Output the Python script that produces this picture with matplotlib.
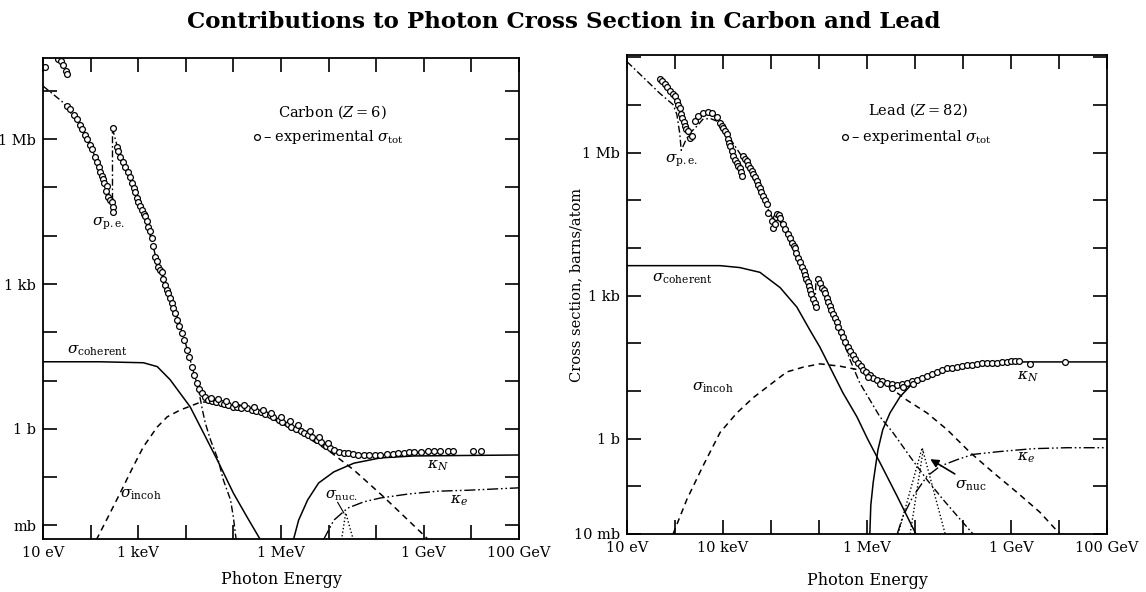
import numpy as np
import matplotlib.pyplot as plt
from matplotlib.ticker import FixedLocator, FixedFormatter

plt.rcParams['font.family'] = 'DejaVu Serif'
plt.rcParams['mathtext.fontset'] = 'dejavuserif'

# all values are (log10 E/eV, log10 sigma/barn)

# ---- Carbon
c_tot = [(1.04, 7.49), (1.32, 7.66), (1.38, 7.62), (1.42, 7.53), (1.48, 7.41), (1.51, 7.35),
         (1.51, 6.68), (1.57, 6.62), (1.65, 6.49), (1.72, 6.41), (1.78, 6.29), (1.82, 6.20),
         (1.88, 6.08), (1.93, 6.00), (1.99, 5.87), (2.03, 5.79), (2.09, 5.64), (2.14, 5.52),
         (2.18, 5.42), (2.20, 5.33), (2.24, 5.23), (2.26, 5.17), (2.28, 5.10), (2.35, 5.02),
         (2.33, 4.92), (2.37, 4.81), (2.41, 4.75), (2.45, 4.69), (2.47, 4.59), (2.47, 4.50),
         (2.47, 6.23), (2.56, 5.83), (2.58, 5.75), (2.62, 5.64), (2.68, 5.52), (2.73, 5.42),
         (2.79, 5.31), (2.83, 5.21), (2.87, 5.10), (2.92, 4.98), (2.94, 4.90), (2.98, 4.79),
         (3.00, 4.69), (3.04, 4.61), (3.08, 4.54), (3.13, 4.46), (3.15, 4.40), (3.19, 4.30),
         (3.21, 4.19), (3.25, 4.09), (3.29, 3.96), (3.32, 3.78), (3.36, 3.57), (3.40, 3.47),
         (3.42, 3.36), (3.46, 3.30), (3.51, 3.24), (3.53, 3.11), (3.57, 2.99), (3.61, 2.88),
         (3.63, 2.82), (3.67, 2.72), (3.72, 2.61), (3.74, 2.51), (3.78, 2.41), (3.82, 2.26),
         (3.86, 2.14), (3.93, 1.99), (3.97, 1.85), (4.03, 1.64), (4.07, 1.49), (4.14, 1.29),
         (4.18, 1.12), (4.24, 0.95), (4.28, 0.83), (4.35, 0.75), (4.41, 0.66), (4.47, 0.60),
         (4.56, 0.58), (4.64, 0.56), (4.73, 0.54), (4.81, 0.52), (4.89, 0.50), (5.00, 0.46),
         (5.08, 0.46), (5.17, 0.44), (5.29, 0.44), (5.40, 0.39), (5.48, 0.37), (5.57, 0.35),
         (5.67, 0.31), (5.76, 0.29), (5.84, 0.25), (5.95, 0.19), (6.03, 0.15), (6.14, 0.10),
         (6.22, 0.04), (6.31, 0.00), (6.41, -0.04), (6.49, -0.08), (6.56, -0.12), (6.66, -0.17),
         (6.75, -0.23), (6.83, -0.27), (6.94, -0.35), (7.02, -0.39), (7.11, -0.44), (7.21, -0.48),
         (7.32, -0.50), (7.40, -0.50), (7.51, -0.52), (7.61, -0.54), (7.74, -0.54), (7.84, -0.54),
         (7.97, -0.54), (8.09, -0.54), (8.22, -0.52), (8.35, -0.52), (8.45, -0.50), (8.58, -0.50),
         (8.68, -0.48), (8.79, -0.48), (8.94, -0.48), (9.08, -0.46), (9.21, -0.46), (9.34, -0.46),
         (9.51, -0.46), (9.61, -0.46), (10.03, -0.46), (10.20, -0.46),
         (4.52, 0.65), (4.68, 0.61), (4.85, 0.57), (5.04, 0.52), (5.23, 0.50), (5.44, 0.45),
         (5.62, 0.40), (5.80, 0.33), (5.99, 0.25), (6.18, 0.16), (6.36, 0.08), (6.60, -0.05),
         (6.79, -0.16), (6.98, -0.30)]
c_pe = [(1.00, 7.10), (1.40, 6.78), (1.78, 6.29), (2.03, 5.80), (2.26, 5.17), (2.46, 4.68),
        (2.46, 6.22), (2.56, 5.85), (2.83, 5.21), (3.13, 4.46), (3.42, 3.38), (3.72, 2.62),
        (3.97, 1.86), (4.18, 1.12), (4.26, 0.85), (4.35, 0.39), (4.41, 0.12), (4.52, -0.23),
        (4.68, -0.64), (4.79, -1.06), (4.94, -1.47), (5.00, -1.83), (5.04, -2.16), (5.06, -2.30)]
c_coh = [(1.00, 1.39), (2.20, 1.39), (3.11, 1.37), (3.40, 1.29), (3.67, 1.02), (4.09, 0.46),
         (4.37, -0.08), (4.66, -0.64), (5.00, -1.33), (5.29, -1.83), (5.57, -2.30)]
c_incoh = [(2.12, -2.30), (2.41, -1.74), (2.62, -1.33), (2.89, -0.79), (3.11, -0.37), (3.40, 0.04),
           (3.61, 0.25), (3.88, 0.39), (4.30, 0.55), (4.70, 0.58), (5.20, 0.48), (5.60, 0.32),
           (6.00, 0.12), (6.50, -0.14), (7.04, -0.48), (7.53, -0.85), (8.16, -1.41), (9.00, -2.20),
           (9.10, -2.30)]
c_kn = [(6.26, -2.30), (6.37, -1.89), (6.56, -1.47), (6.79, -1.12), (7.11, -0.89), (7.53, -0.71),
        (8.09, -0.60), (8.79, -0.56), (11.0, -0.54)]
c_ke = [(6.89, -2.30), (7.11, -1.89), (7.40, -1.64), (7.74, -1.51), (8.09, -1.43), (8.66, -1.35),
        (9.29, -1.29), (9.93, -1.27), (11.0, -1.22)]
c_nuc = [(7.27, -2.30), (7.36, -1.74), (7.52, -2.30)]

# ---- Lead
p_tot = [(1.69, 7.54), (1.74, 7.50), (1.79, 7.45), (1.84, 7.37), (1.90, 7.29), (1.95, 7.23),
         (2.00, 7.18), (2.04, 7.08), (2.07, 7.00), (2.10, 6.93), (2.12, 6.82), (2.15, 6.72),
         (2.18, 6.64), (2.21, 6.56), (2.24, 6.50), (2.27, 6.45), (2.31, 6.30), (2.35, 6.35),
         (2.42, 6.66), (2.48, 6.76), (2.58, 6.83), (2.69, 6.85), (2.77, 6.83), (2.88, 6.74),
         (2.94, 6.62), (2.97, 6.56), (3.00, 6.51), (3.04, 6.45), (3.08, 6.39), (3.10, 6.28),
         (3.12, 6.20), (3.15, 6.14), (3.18, 6.04), (3.21, 5.93), (3.25, 5.85), (3.29, 5.78),
         (3.32, 5.72), (3.35, 5.68), (3.37, 5.60), (3.40, 5.51), (3.42, 5.93), (3.46, 5.87),
         (3.50, 5.82), (3.53, 5.75), (3.56, 5.68), (3.60, 5.62), (3.63, 5.55), (3.67, 5.48),
         (3.71, 5.41), (3.74, 5.33), (3.77, 5.26), (3.80, 5.17), (3.83, 5.09), (3.87, 5.01),
         (3.92, 4.93), (3.94, 4.74), (4.02, 4.57), (4.04, 4.43), (4.08, 4.50), (4.10, 4.65),
         (4.13, 4.72), (4.16, 4.70), (4.19, 4.63), (4.25, 4.51), (4.30, 4.40), (4.35, 4.30),
         (4.40, 4.20), (4.44, 4.11), (4.47, 4.05), (4.50, 3.99), (4.53, 3.90), (4.56, 3.80),
         (4.60, 3.70), (4.65, 3.61), (4.68, 3.52), (4.71, 3.44), (4.74, 3.36), (4.77, 3.28),
         (4.79, 3.20), (4.81, 3.11), (4.84, 3.03), (4.88, 2.94), (4.91, 2.85), (4.94, 2.76),
         (4.98, 3.36), (5.02, 3.27), (5.06, 3.17), (5.10, 3.11), (5.13, 3.05), (5.16, 2.95),
         (5.19, 2.86), (5.22, 2.78), (5.25, 2.69), (5.29, 2.61), (5.33, 2.53), (5.37, 2.44),
         (5.40, 2.34), (5.45, 2.23), (5.50, 2.13), (5.55, 2.02), (5.60, 1.92), (5.65, 1.83),
         (5.71, 1.75), (5.76, 1.67), (5.81, 1.59), (5.87, 1.52), (5.92, 1.44), (5.98, 1.40),
         (6.06, 1.34), (6.13, 1.28), (6.21, 1.23), (6.31, 1.20), (6.42, 1.17), (6.52, 1.14),
         (6.63, 1.13), (6.73, 1.14), (6.83, 1.17), (6.94, 1.20), (7.04, 1.23), (7.15, 1.28),
         (7.25, 1.32), (7.35, 1.36), (7.46, 1.40), (7.57, 1.44), (7.67, 1.48), (7.78, 1.49),
         (7.88, 1.50), (7.98, 1.52), (8.08, 1.54), (8.18, 1.55), (8.29, 1.57), (8.40, 1.58),
         (8.50, 1.59), (8.60, 1.59), (8.71, 1.59), (8.81, 1.60), (8.92, 1.61), (9.00, 1.62),
         (9.08, 1.63), (9.16, 1.62), (9.40, 1.57), (10.13, 1.61),
         (6.02, 1.29), (6.27, 1.15), (6.52, 1.06), (6.75, 1.09), (6.96, 1.15)]
p_pe = [(1.00, 7.91), (1.69, 7.24), (1.96, 7.01), (2.04, 6.80), (2.10, 6.40), (2.13, 6.05),
        (2.22, 6.25), (2.31, 6.41), (2.46, 6.56), (2.58, 6.70), (2.73, 6.72), (2.88, 6.66),
        (3.04, 6.49), (3.21, 6.20), (3.46, 5.82), (3.77, 5.16), (4.08, 4.53), (4.10, 4.74),
        (4.60, 3.70), (4.92, 2.90), (4.94, 3.36), (5.23, 2.80), (5.50, 2.07), (5.65, 1.65),
        (5.85, 1.17), (6.27, 0.46), (6.54, 0.13), (6.90, -0.38), (7.25, -0.86), (7.58, -1.27),
        (7.94, -1.69), (8.21, -2.00)]
p_coh = [(1.00, 3.63), (2.94, 3.63), (3.35, 3.59), (3.77, 3.49), (4.19, 3.17), (4.54, 2.76),
         (4.81, 2.28), (5.02, 1.92), (5.23, 1.50), (5.50, 0.96), (5.79, 0.46), (6.02, -0.02),
         (6.27, -0.50), (6.63, -1.21), (7.00, -1.96), (7.02, -2.00)]
p_incoh = [(1.96, -2.00), (2.25, -1.27), (2.58, -0.58), (2.94, 0.13), (3.29, 0.54), (3.63, 0.86),
           (3.98, 1.13), (4.33, 1.40), (4.67, 1.50), (5.02, 1.57), (5.44, 1.52), (5.85, 1.44),
           (6.27, 1.23), (6.83, 0.81), (7.25, 0.54), (7.67, 0.19), (8.15, -0.29), (8.63, -0.71),
           (9.13, -1.13), (9.60, -1.54), (10.02, -2.00)]
p_kn = [(6.06, -2.00), (6.08, -1.40), (6.13, -0.92), (6.23, -0.23), (6.33, 0.19), (6.48, 0.54),
        (6.69, 0.88), (6.96, 1.17), (7.25, 1.29), (7.67, 1.44), (8.15, 1.54), (8.98, 1.61),
        (11.0, 1.61)]
p_ke = [(6.63, -2.00), (6.75, -1.63), (6.96, -1.21), (7.25, -0.79), (7.52, -0.58), (7.88, -0.44),
        (8.21, -0.33), (8.77, -0.27), (9.46, -0.21), (10.17, -0.19), (11.0, -0.19)]
p_nuc = [(6.65, -2.00), (7.15, -0.19), (7.63, -2.00)]
p_nuc2 = [(6.90, -2.00), (7.17, -0.25)]

x_labels_c = {1: '10 eV', 3: '1 keV', 6: '1 MeV', 9: '1 GeV', 11: '100 GeV'}
y_labels_c = {6: '1 Mb', 3: '1 kb', 0: '1 b', -2: 'mb'}
x_labels_p = {1: '10 eV', 3: '10 keV', 6: '1 MeV', 9: '1 GeV', 11: '100 GeV'}
y_labels_p = {6: '1 Mb', 3: '1 kb', 0: '1 b', -2: '10 mb'}

PE = (0, (5, 2, 1.2, 2))
KE = (0, (8, 2, 1.2, 2, 1.2, 2))
DASH = (0, (4, 3))
DOT = (0, (1, 1.6))
MS = 4.2


def curve(ax, pts, **kw):
    a = np.array(pts)
    ax.plot(10 ** a[:, 0], 10 ** a[:, 1], color='black', **kw)


def frame(ax, ylog, xlabels, ylabels):
    ax.set_xscale('log')
    ax.set_yscale('log')
    ax.set_xlim(1e1, 1e11)
    ax.set_ylim(10 ** ylog[0], 10 ** ylog[1])
    xt = list(range(1, 12))
    yt = list(range(int(np.ceil(ylog[0])), int(np.floor(ylog[1])) + 1))
    ax.xaxis.set_major_locator(FixedLocator([10.0 ** k for k in xt]))
    ax.xaxis.set_major_formatter(FixedFormatter([xlabels.get(k, '') for k in xt]))
    ax.yaxis.set_major_locator(FixedLocator([10.0 ** k for k in yt]))
    ax.yaxis.set_major_formatter(FixedFormatter([ylabels.get(k, '') for k in yt]))
    ax.minorticks_off()
    ax.tick_params(which='major', direction='in', length=10, width=1.2,
                   top=True, right=True, labelsize=10.5, pad=5)
    for s in ax.spines.values():
        s.set_linewidth(1.3)
    ax.set_xlabel('Photon Energy', fontsize=11.5)


fig = plt.figure(figsize=(11.46, 5.92), dpi=100)
fig.text(0.492, 0.962, 'Contributions to Photon Cross Section in Carbon and Lead',
         ha='center', va='center', fontsize=16.5, fontweight='bold')

# ---------------- Carbon panel
ax1 = fig.add_axes([0.0375, 0.0895, 0.4154, 0.8125])
frame(ax1, (-2.28, 7.68), x_labels_c, y_labels_c)
ax1.xaxis.set_label_coords(0.5, -0.066)
curve(ax1, c_coh, lw=1.1)
curve(ax1, c_incoh, lw=1.1, linestyle=DASH)
curve(ax1, c_pe, lw=1.0, linestyle=PE)
curve(ax1, c_kn, lw=1.1)
curve(ax1, c_ke, lw=1.0, linestyle=KE)
curve(ax1, c_nuc, lw=1.0, linestyle=DOT)
ct = np.array(c_tot)
ax1.plot(10 ** ct[:, 0], 10 ** ct[:, 1], 'o', ms=MS, mfc='white', mec='black', mew=0.9)
ax1.plot([10 ** 7.19, 10 ** 7.32], [10 ** -1.52, 10 ** -1.74], color='black', lw=0.8)

ax1.text(0.494, 0.888, r'Carbon ($Z = 6$)', transform=ax1.transAxes, fontsize=10.5, va='center')
ax1.plot([0.450], [0.836], 'o', ms=MS, mfc='white', mec='black', mew=0.9, transform=ax1.transAxes)
ax1.text(0.462, 0.836, r'– experimental $\sigma_{\rm tot}$', transform=ax1.transAxes,
         fontsize=10.5, va='center')
ax1.text(0.103, 0.655, r'$\sigma_{\rm p.e.}$', transform=ax1.transAxes, fontsize=11, va='center')
ax1.text(0.050, 0.392, r'$\sigma_{\rm coherent}$', transform=ax1.transAxes, fontsize=11, va='center')
ax1.text(0.162, 0.092, r'$\sigma_{\rm incoh}$', transform=ax1.transAxes, fontsize=11, va='center')
ax1.text(0.592, 0.090, r'$\sigma_{\rm nuc.}$', transform=ax1.transAxes, fontsize=10.5, va='center')
ax1.text(0.807, 0.152, r'$\kappa_{N}$', transform=ax1.transAxes, fontsize=11, va='center')
ax1.text(0.855, 0.079, r'$\kappa_{e}$', transform=ax1.transAxes, fontsize=11, va='center')

# ---------------- Lead panel
ax2 = fig.add_axes([0.5471, 0.098, 0.4188, 0.8091])
frame(ax2, (-2.0, 8.05), x_labels_p, y_labels_p)
ax2.xaxis.set_label_coords(0.5, -0.080)
ax2.set_ylabel('Cross section, barns/atom', fontsize=10.5)
ax2.yaxis.set_label_coords(-0.092, 0.52)
curve(ax2, p_coh, lw=1.1)
curve(ax2, p_incoh, lw=1.1, linestyle=DASH)
curve(ax2, p_pe, lw=1.0, linestyle=PE)
curve(ax2, p_kn, lw=1.1)
curve(ax2, p_ke, lw=1.0, linestyle=KE)
curve(ax2, p_nuc, lw=1.0, linestyle=DOT)
curve(ax2, p_nuc2, lw=1.0, linestyle=DOT)
pt = np.array(p_tot)
ax2.plot(10 ** pt[:, 0], 10 ** pt[:, 1], 'o', ms=MS, mfc='white', mec='black', mew=0.9)
ax2.annotate('', xy=(10 ** 7.27, 10 ** -0.40), xytext=(10 ** 7.88, 10 ** -0.77),
             arrowprops=dict(arrowstyle='-|>', color='black', lw=1.2, mutation_scale=12))

ax2.text(0.502, 0.885, r'Lead ($Z = 82$)', transform=ax2.transAxes, fontsize=10.5, va='center')
ax2.plot([0.454], [0.829], 'o', ms=MS, mfc='white', mec='black', mew=0.9, transform=ax2.transAxes)
ax2.text(0.467, 0.829, r'– experimental $\sigma_{\rm tot}$', transform=ax2.transAxes,
         fontsize=10.5, va='center')
ax2.text(0.079, 0.778, r'$\sigma_{\rm p.e.}$', transform=ax2.transAxes, fontsize=11, va='center')
ax2.text(0.052, 0.533, r'$\sigma_{\rm coherent}$', transform=ax2.transAxes, fontsize=11, va='center')
ax2.text(0.135, 0.306, r'$\sigma_{\rm incoh}$', transform=ax2.transAxes, fontsize=11, va='center')
ax2.text(0.8125, 0.328, r'$\kappa_{N}$', transform=ax2.transAxes, fontsize=11, va='center')
ax2.text(0.8125, 0.159, r'$\kappa_{e}$', transform=ax2.transAxes, fontsize=11, va='center')
ax2.text(0.683, 0.100, r'$\sigma_{\rm nuc}$', transform=ax2.transAxes, fontsize=11, va='center')

fig.savefig('out.png', dpi=100)
